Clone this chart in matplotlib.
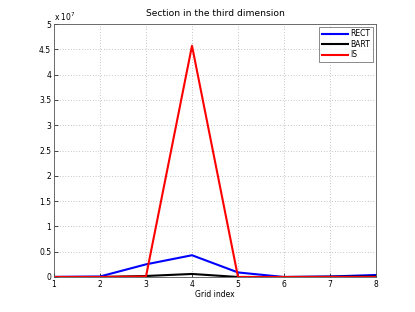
import numpy as np
from matplotlib import pyplot as plt

grid = [1, 2, 3, 4, 5, 6, 7, 8]
rect = [0.02e6, 0.1e6, 2.5e6, 4.3e6, 0.9e6, 0.0, 0.1e6, 0.4e6]
bart = [0.0, 0.0, 0.2e6, 0.6e6, 0.0, 0.0, 0.05e6, 0.1e6]
is_ = [0.0, 0.0, 0.1e6, 45.7e6, 0.0, 0.0, 0.0, 0.0]

plt.rcParams['font.family'] = 'DejaVu Sans'
plt.rcParams['font.size'] = 5.5

fig = plt.figure(figsize=(4.15, 3.12), dpi=100)
ax = fig.add_axes([54 / 415, 35 / 312, 322 / 415, 253 / 312])

ax.plot(grid, rect, color='#0000ff', lw=1.5, label='RECT')
ax.plot(grid, bart, color='black', lw=1.5, label='BART')
ax.plot(grid, is_, color='#ff0000', lw=1.5, label='IS')

ax.set_xlim(1, 8)
ax.set_ylim(0, 5e7)
ax.set_xticks(grid)
yt = np.arange(0, 5.01, 0.5)
ax.set_yticks(yt * 1e7)
ax.set_yticklabels(['%g' % v for v in yt])
ax.text(0, 1.005, r'x 10$^7$', transform=ax.transAxes, fontsize=5.5, va='bottom')

ax.grid(True, ls=(0, (0.8, 2.5)), color='#a0a0a0', lw=0.6)
ax.tick_params(direction='in', length=3, width=0.5, pad=2)
for s in ax.spines.values():
    s.set_linewidth(0.6)
    s.set_color('#555555')

ax.set_xlabel('Grid index', labelpad=1)
ax.set_title('Section in the third dimension', pad=6)
leg = ax.legend(loc='upper right', fancybox=False, handlelength=3.5,
                borderpad=0.3, labelspacing=0.2, handletextpad=0.3,
                borderaxespad=0.4)
leg.get_frame().set_edgecolor('#555555')
leg.get_frame().set_linewidth(0.6)

fig.savefig('out.png', dpi=100)
